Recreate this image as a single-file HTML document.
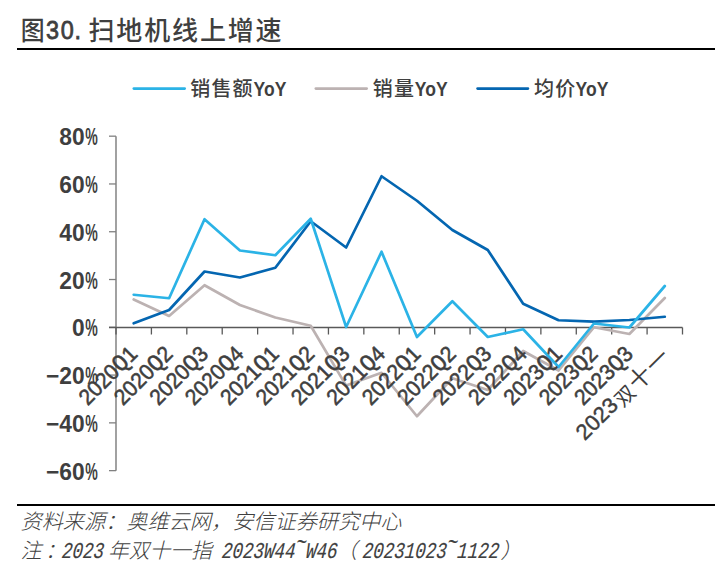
<!DOCTYPE html>
<html><head><meta charset="utf-8"><style>
html,body{margin:0;padding:0;background:#fff;}
svg{display:block;}
</style></head><body>
<svg width="728" height="570" viewBox="0 0 728 570">
<g fill="#3f3f3f">
<text transform="translate(20.8,40) scale(0.92,1)" font-family="&quot;Liberation Sans&quot;, &quot;Noto Sans CJK SC&quot;, sans-serif" font-weight="500" font-size="26">图</text>
<text transform="translate(0,39.2) scale(0.9,1)" x="51.2 67.4 82.7" font-family="&quot;Liberation Sans&quot;, sans-serif" font-size="26" stroke="#3f3f3f" stroke-width="0.8">30.</text>
<text x="88.5" y="40" font-family="&quot;Liberation Sans&quot;, &quot;Noto Sans CJK SC&quot;, sans-serif" font-weight="500" font-size="26" letter-spacing="1.85">扫地机线上增速</text>
</g>
<rect x="17" y="48" width="698" height="2" fill="#000"/>
<line x1="133.80" y1="88.6" x2="184.70" y2="88.6" stroke="#2bb3e6" stroke-width="2.6" stroke-linecap="round"/>
<text x="190.2" y="95.6" font-family="&quot;Liberation Sans&quot;, &quot;Noto Sans CJK SC&quot;, sans-serif" font-weight="500" font-size="20" letter-spacing="1.2" fill="#3f3f3f">销售额</text>
<text transform="translate(253.6,95.5) scale(0.86,1)" font-family="&quot;Liberation Sans&quot;, sans-serif" font-weight="bold" font-size="20.4" fill="#3f3f3f">YoY</text>
<line x1="315.80" y1="88.6" x2="366.70" y2="88.6" stroke="#bcb2b2" stroke-width="2.6" stroke-linecap="round"/>
<text x="372.8" y="95.6" font-family="&quot;Liberation Sans&quot;, &quot;Noto Sans CJK SC&quot;, sans-serif" font-weight="500" font-size="20" letter-spacing="1.2" fill="#3f3f3f">销量</text>
<text transform="translate(414.8,95.5) scale(0.86,1)" font-family="&quot;Liberation Sans&quot;, sans-serif" font-weight="bold" font-size="20.4" fill="#3f3f3f">YoY</text>
<line x1="477.55" y1="88.6" x2="527.95" y2="88.6" stroke="#0466b1" stroke-width="2.6" stroke-linecap="round"/>
<text x="534.1" y="95.6" font-family="&quot;Liberation Sans&quot;, &quot;Noto Sans CJK SC&quot;, sans-serif" font-weight="500" font-size="20" letter-spacing="1.2" fill="#3f3f3f">均价</text>
<text transform="translate(575.6,95.5) scale(0.86,1)" font-family="&quot;Liberation Sans&quot;, sans-serif" font-weight="bold" font-size="20.4" fill="#3f3f3f">YoY</text>
<line x1="116" y1="136.18" x2="116" y2="470.64" stroke="#7a7a7a" stroke-width="1.4"/>
<line x1="109" y1="136.18" x2="116" y2="136.18" stroke="#808080" stroke-width="1.3"/>
<text transform="translate(84.6,145.28) scale(0.97,1)" text-anchor="end" font-family="&quot;Liberation Sans&quot;, sans-serif" font-weight="bold" font-size="23.5" fill="#3f3f3f">80</text>
<text transform="translate(97.8,145.28) scale(0.6,1)" text-anchor="end" font-family="&quot;Liberation Sans&quot;, sans-serif" font-weight="bold" font-size="23.5" fill="#3f3f3f">%</text>
<line x1="109" y1="183.96" x2="116" y2="183.96" stroke="#808080" stroke-width="1.3"/>
<text transform="translate(84.6,193.06) scale(0.97,1)" text-anchor="end" font-family="&quot;Liberation Sans&quot;, sans-serif" font-weight="bold" font-size="23.5" fill="#3f3f3f">60</text>
<text transform="translate(97.8,193.06) scale(0.6,1)" text-anchor="end" font-family="&quot;Liberation Sans&quot;, sans-serif" font-weight="bold" font-size="23.5" fill="#3f3f3f">%</text>
<line x1="109" y1="231.74" x2="116" y2="231.74" stroke="#808080" stroke-width="1.3"/>
<text transform="translate(84.6,240.84) scale(0.97,1)" text-anchor="end" font-family="&quot;Liberation Sans&quot;, sans-serif" font-weight="bold" font-size="23.5" fill="#3f3f3f">40</text>
<text transform="translate(97.8,240.84) scale(0.6,1)" text-anchor="end" font-family="&quot;Liberation Sans&quot;, sans-serif" font-weight="bold" font-size="23.5" fill="#3f3f3f">%</text>
<line x1="109" y1="279.52" x2="116" y2="279.52" stroke="#808080" stroke-width="1.3"/>
<text transform="translate(84.6,288.62) scale(0.97,1)" text-anchor="end" font-family="&quot;Liberation Sans&quot;, sans-serif" font-weight="bold" font-size="23.5" fill="#3f3f3f">20</text>
<text transform="translate(97.8,288.62) scale(0.6,1)" text-anchor="end" font-family="&quot;Liberation Sans&quot;, sans-serif" font-weight="bold" font-size="23.5" fill="#3f3f3f">%</text>
<line x1="109" y1="327.30" x2="116" y2="327.30" stroke="#808080" stroke-width="1.3"/>
<text transform="translate(84.6,336.40) scale(0.97,1)" text-anchor="end" font-family="&quot;Liberation Sans&quot;, sans-serif" font-weight="bold" font-size="23.5" fill="#3f3f3f">0</text>
<text transform="translate(97.8,336.40) scale(0.6,1)" text-anchor="end" font-family="&quot;Liberation Sans&quot;, sans-serif" font-weight="bold" font-size="23.5" fill="#3f3f3f">%</text>
<line x1="109" y1="375.08" x2="116" y2="375.08" stroke="#808080" stroke-width="1.3"/>
<text transform="translate(84.6,384.18) scale(0.97,1)" text-anchor="end" font-family="&quot;Liberation Sans&quot;, sans-serif" font-weight="bold" font-size="23.5" fill="#3f3f3f">−20</text>
<text transform="translate(97.8,384.18) scale(0.6,1)" text-anchor="end" font-family="&quot;Liberation Sans&quot;, sans-serif" font-weight="bold" font-size="23.5" fill="#3f3f3f">%</text>
<line x1="109" y1="422.86" x2="116" y2="422.86" stroke="#808080" stroke-width="1.3"/>
<text transform="translate(84.6,431.96) scale(0.97,1)" text-anchor="end" font-family="&quot;Liberation Sans&quot;, sans-serif" font-weight="bold" font-size="23.5" fill="#3f3f3f">−40</text>
<text transform="translate(97.8,431.96) scale(0.6,1)" text-anchor="end" font-family="&quot;Liberation Sans&quot;, sans-serif" font-weight="bold" font-size="23.5" fill="#3f3f3f">%</text>
<line x1="109" y1="470.64" x2="116" y2="470.64" stroke="#808080" stroke-width="1.3"/>
<text transform="translate(84.6,479.74) scale(0.97,1)" text-anchor="end" font-family="&quot;Liberation Sans&quot;, sans-serif" font-weight="bold" font-size="23.5" fill="#3f3f3f">−60</text>
<text transform="translate(97.8,479.74) scale(0.6,1)" text-anchor="end" font-family="&quot;Liberation Sans&quot;, sans-serif" font-weight="bold" font-size="23.5" fill="#3f3f3f">%</text>
<line x1="109" y1="327.5" x2="682.5" y2="327.5" stroke="#595959" stroke-width="1.3"/>
<line x1="116.00" y1="327.5" x2="116.00" y2="334.5" stroke="#595959" stroke-width="1.3"/>
<line x1="151.41" y1="327.5" x2="151.41" y2="334.5" stroke="#595959" stroke-width="1.3"/>
<line x1="186.81" y1="327.5" x2="186.81" y2="334.5" stroke="#595959" stroke-width="1.3"/>
<line x1="222.22" y1="327.5" x2="222.22" y2="334.5" stroke="#595959" stroke-width="1.3"/>
<line x1="257.62" y1="327.5" x2="257.62" y2="334.5" stroke="#595959" stroke-width="1.3"/>
<line x1="293.03" y1="327.5" x2="293.03" y2="334.5" stroke="#595959" stroke-width="1.3"/>
<line x1="328.44" y1="327.5" x2="328.44" y2="334.5" stroke="#595959" stroke-width="1.3"/>
<line x1="363.84" y1="327.5" x2="363.84" y2="334.5" stroke="#595959" stroke-width="1.3"/>
<line x1="399.25" y1="327.5" x2="399.25" y2="334.5" stroke="#595959" stroke-width="1.3"/>
<line x1="434.66" y1="327.5" x2="434.66" y2="334.5" stroke="#595959" stroke-width="1.3"/>
<line x1="470.06" y1="327.5" x2="470.06" y2="334.5" stroke="#595959" stroke-width="1.3"/>
<line x1="505.47" y1="327.5" x2="505.47" y2="334.5" stroke="#595959" stroke-width="1.3"/>
<line x1="540.88" y1="327.5" x2="540.88" y2="334.5" stroke="#595959" stroke-width="1.3"/>
<line x1="576.28" y1="327.5" x2="576.28" y2="334.5" stroke="#595959" stroke-width="1.3"/>
<line x1="611.69" y1="327.5" x2="611.69" y2="334.5" stroke="#595959" stroke-width="1.3"/>
<line x1="647.09" y1="327.5" x2="647.09" y2="334.5" stroke="#595959" stroke-width="1.3"/>
<line x1="682.50" y1="327.5" x2="682.50" y2="334.5" stroke="#595959" stroke-width="1.3"/>
<polyline points="133.70,299.50 169.11,316.00 204.52,285.25 239.92,305.00 275.33,317.50 310.73,325.75 346.14,385.60 381.55,372.75 416.95,416.25 452.36,378.25 487.77,390.00 523.17,351.00 558.58,370.50 593.98,327.25 629.39,334.00 664.80,298.00" fill="none" stroke="#bcb2b2" stroke-width="2.7" stroke-linejoin="round" stroke-linecap="round"/>
<polyline points="133.70,323.25 169.11,310.00 204.52,271.50 239.92,277.50 275.33,267.75 310.73,221.25 346.14,247.50 381.55,176.25 416.95,200.75 452.36,230.00 487.77,250.00 523.17,303.75 558.58,320.25 593.98,321.60 629.39,320.00 664.80,316.75" fill="none" stroke="#0466b1" stroke-width="2.7" stroke-linejoin="round" stroke-linecap="round"/>
<polyline points="133.70,294.75 169.11,298.25 204.52,219.25 239.92,250.50 275.33,255.25 310.73,218.75 346.14,327.00 381.55,251.75 416.95,337.00 452.36,301.25 487.77,337.00 523.17,329.25 558.58,367.00 593.98,323.50 629.39,327.50 664.80,286.00" fill="none" stroke="#2bb3e6" stroke-width="2.7" stroke-linejoin="round" stroke-linecap="round"/>
<text transform="translate(138.70,355.2) rotate(-45) scale(0.955,1)" text-anchor="end" font-family="&quot;Liberation Sans&quot;, sans-serif" font-size="22" fill="#3f3f3f" stroke="#3f3f3f" stroke-width="0.55">2020<tspan font-family="&quot;Liberation Mono&quot;, monospace" font-size="24">Q</tspan>1</text>
<text transform="translate(174.11,355.2) rotate(-45) scale(0.955,1)" text-anchor="end" font-family="&quot;Liberation Sans&quot;, sans-serif" font-size="22" fill="#3f3f3f" stroke="#3f3f3f" stroke-width="0.55">2020<tspan font-family="&quot;Liberation Mono&quot;, monospace" font-size="24">Q</tspan>2</text>
<text transform="translate(209.52,355.2) rotate(-45) scale(0.955,1)" text-anchor="end" font-family="&quot;Liberation Sans&quot;, sans-serif" font-size="22" fill="#3f3f3f" stroke="#3f3f3f" stroke-width="0.55">2020<tspan font-family="&quot;Liberation Mono&quot;, monospace" font-size="24">Q</tspan>3</text>
<text transform="translate(244.92,355.2) rotate(-45) scale(0.955,1)" text-anchor="end" font-family="&quot;Liberation Sans&quot;, sans-serif" font-size="22" fill="#3f3f3f" stroke="#3f3f3f" stroke-width="0.55">2020<tspan font-family="&quot;Liberation Mono&quot;, monospace" font-size="24">Q</tspan>4</text>
<text transform="translate(280.33,355.2) rotate(-45) scale(0.955,1)" text-anchor="end" font-family="&quot;Liberation Sans&quot;, sans-serif" font-size="22" fill="#3f3f3f" stroke="#3f3f3f" stroke-width="0.55">2021<tspan font-family="&quot;Liberation Mono&quot;, monospace" font-size="24">Q</tspan>1</text>
<text transform="translate(315.73,355.2) rotate(-45) scale(0.955,1)" text-anchor="end" font-family="&quot;Liberation Sans&quot;, sans-serif" font-size="22" fill="#3f3f3f" stroke="#3f3f3f" stroke-width="0.55">2021<tspan font-family="&quot;Liberation Mono&quot;, monospace" font-size="24">Q</tspan>2</text>
<text transform="translate(351.14,355.2) rotate(-45) scale(0.955,1)" text-anchor="end" font-family="&quot;Liberation Sans&quot;, sans-serif" font-size="22" fill="#3f3f3f" stroke="#3f3f3f" stroke-width="0.55">2021<tspan font-family="&quot;Liberation Mono&quot;, monospace" font-size="24">Q</tspan>3</text>
<text transform="translate(386.55,355.2) rotate(-45) scale(0.955,1)" text-anchor="end" font-family="&quot;Liberation Sans&quot;, sans-serif" font-size="22" fill="#3f3f3f" stroke="#3f3f3f" stroke-width="0.55">2021<tspan font-family="&quot;Liberation Mono&quot;, monospace" font-size="24">Q</tspan>4</text>
<text transform="translate(421.95,355.2) rotate(-45) scale(0.955,1)" text-anchor="end" font-family="&quot;Liberation Sans&quot;, sans-serif" font-size="22" fill="#3f3f3f" stroke="#3f3f3f" stroke-width="0.55">2022<tspan font-family="&quot;Liberation Mono&quot;, monospace" font-size="24">Q</tspan>1</text>
<text transform="translate(457.36,355.2) rotate(-45) scale(0.955,1)" text-anchor="end" font-family="&quot;Liberation Sans&quot;, sans-serif" font-size="22" fill="#3f3f3f" stroke="#3f3f3f" stroke-width="0.55">2022<tspan font-family="&quot;Liberation Mono&quot;, monospace" font-size="24">Q</tspan>2</text>
<text transform="translate(492.77,355.2) rotate(-45) scale(0.955,1)" text-anchor="end" font-family="&quot;Liberation Sans&quot;, sans-serif" font-size="22" fill="#3f3f3f" stroke="#3f3f3f" stroke-width="0.55">2022<tspan font-family="&quot;Liberation Mono&quot;, monospace" font-size="24">Q</tspan>3</text>
<text transform="translate(528.17,355.2) rotate(-45) scale(0.955,1)" text-anchor="end" font-family="&quot;Liberation Sans&quot;, sans-serif" font-size="22" fill="#3f3f3f" stroke="#3f3f3f" stroke-width="0.55">2022<tspan font-family="&quot;Liberation Mono&quot;, monospace" font-size="24">Q</tspan>4</text>
<text transform="translate(563.58,355.2) rotate(-45) scale(0.955,1)" text-anchor="end" font-family="&quot;Liberation Sans&quot;, sans-serif" font-size="22" fill="#3f3f3f" stroke="#3f3f3f" stroke-width="0.55">2023<tspan font-family="&quot;Liberation Mono&quot;, monospace" font-size="24">Q</tspan>1</text>
<text transform="translate(598.98,355.2) rotate(-45) scale(0.955,1)" text-anchor="end" font-family="&quot;Liberation Sans&quot;, sans-serif" font-size="22" fill="#3f3f3f" stroke="#3f3f3f" stroke-width="0.55">2023<tspan font-family="&quot;Liberation Mono&quot;, monospace" font-size="24">Q</tspan>2</text>
<text transform="translate(634.39,355.2) rotate(-45) scale(0.955,1)" text-anchor="end" font-family="&quot;Liberation Sans&quot;, sans-serif" font-size="22" fill="#3f3f3f" stroke="#3f3f3f" stroke-width="0.55">2023<tspan font-family="&quot;Liberation Mono&quot;, monospace" font-size="24">Q</tspan>3</text>
<g transform="translate(670.27,355.75) rotate(-45)" fill="#3f3f3f" font-family="&quot;Liberation Sans&quot;, &quot;Noto Sans CJK SC&quot;, sans-serif" font-weight="400" font-size="23"><text x="-24.2" y="2.5">一</text><text x="-48.5" y="2.5">十</text><text x="-70.3" y="3.6" font-size="20">双</text><text transform="translate(-71.9,0) scale(1.0,1)" text-anchor="end" font-family="&quot;Liberation Sans&quot;, sans-serif" font-size="22" stroke="#3f3f3f" stroke-width="0.45">2023</text></g>
<rect x="17" y="504" width="698" height="2" fill="#000"/>
<g fill="#3f3f3f" font-style="italic">
<text x="20.5" y="529" font-family="&quot;Liberation Sans&quot;, &quot;Noto Sans CJK SC&quot;, sans-serif" font-weight="300" font-size="21" textLength="381" lengthAdjust="spacingAndGlyphs">资料来源：奥维云网，安信证券研究中心</text>
<text x="20.5" y="558.3" font-family="&quot;Liberation Sans&quot;, &quot;Noto Sans CJK SC&quot;, sans-serif" font-weight="300" font-size="21">注</text>
<text x="45" y="558.3" font-family="&quot;Liberation Sans&quot;, &quot;Noto Sans CJK SC&quot;, sans-serif" font-weight="300" font-size="21">：</text>
<text transform="translate(61.50,558.3) scale(1,1.29) skewX(-7)" font-family="&quot;Liberation Mono&quot;, monospace" font-size="17.50" stroke="#3f3f3f" stroke-width="0.12">2023</text>
<text x="108" y="558.3" font-family="&quot;Liberation Sans&quot;, &quot;Noto Sans CJK SC&quot;, sans-serif" font-weight="300" font-size="21" textLength="103.6" lengthAdjust="spacingAndGlyphs">年双十一指</text>
<text transform="translate(221.50,558.3) scale(1,1.29) skewX(-7)" font-family="&quot;Liberation Mono&quot;, monospace" font-size="17.50" stroke="#3f3f3f" stroke-width="0.12">2023W44<tspan dy="-7">~</tspan><tspan dy="7">W46</tspan></text>
<text x="336" y="558.3" font-family="&quot;Liberation Sans&quot;, &quot;Noto Sans CJK SC&quot;, sans-serif" font-weight="300" font-size="21">（</text>
<text transform="translate(362.20,558.3) scale(1,1.29) skewX(-7)" font-family="&quot;Liberation Mono&quot;, monospace" font-size="17.50" stroke="#3f3f3f" stroke-width="0.12">20231023<tspan dy="-7">~</tspan><tspan dy="7">1122</tspan></text>
<text x="500.5" y="558.3" font-family="&quot;Liberation Sans&quot;, &quot;Noto Sans CJK SC&quot;, sans-serif" font-weight="300" font-size="21">）</text>
</g>
</svg>
</body></html>
